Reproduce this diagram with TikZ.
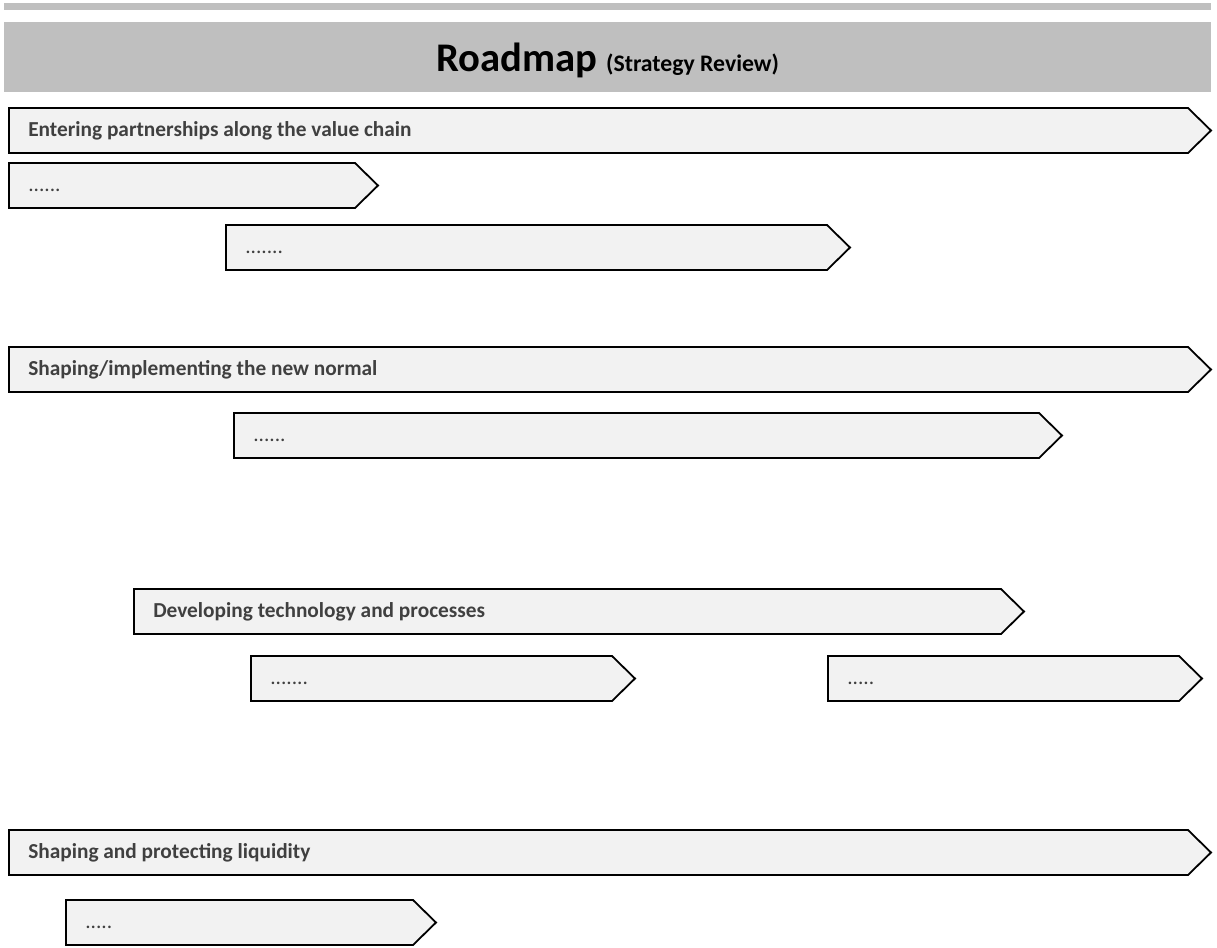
\documentclass[tikz,border=0pt]{standalone}
\usepackage{fontspec}
\setmainfont{Carlito}
\usetikzlibrary{positioning}

\definecolor{headgray}{HTML}{BFBFBF}
\definecolor{barfill}{HTML}{F2F2F2}
\definecolor{labeltext}{HTML}{404040}

% one roadmap bar: name, left x, top y, tip x, text
\newcommand{\phasebar}[5]{%
  \draw[bar] (#2,#3) -- (#4-23,#3) -- (#4,#3+22.5) -- (#4-23,#3+45)
    -- (#2,#3+45) -- cycle;
  \node[barlabel, anchor=base west] (#1) at (#2+19,#3+28.5) {#5};}

\begin{document}
\begin{tikzpicture}[x=0.75pt, y=-0.75pt, every node/.style={font=\fontsize{16}{18}\selectfont}]
\tikzset{bar/.style={draw=black, line width=1.35pt, fill=barfill, line join=miter},
  barlabel/.style={inner sep=0pt, text=labeltext, font=\fontsize{16}{18}\selectfont}}
\useasboundingbox (0,0) rectangle (1217,947);

% header
\fill[headgray] (4,3) rectangle (1211,10);
\fill[headgray] (4,22) rectangle (1211,92);
\node (title) at (607.5,60) {\fontsize{30.5}{34}\selectfont\bfseries Roadmap
  \fontsize{17.8}{20}\selectfont(Strategy Review)};

% partnerships
\phasebar{partner}{9}{108}{1211}{\textbf{Entering partnerships along the value chain}}
\phasebar{partnerA}{9}{163}{378}{......}
\phasebar{partnerB}{226}{225}{850}{.......}

% new normal
\phasebar{normal}{9}{347}{1211}{\textbf{Shaping/implementing the new normal}}
\phasebar{normalA}{234}{413}{1062}{......}

% technology
\phasebar{tech}{134}{589}{1024}{\textbf{Developing technology and processes}}
\phasebar{techA}{251}{656}{635}{.......}
\phasebar{techB}{828}{656}{1202}{.....}

% liquidity
\phasebar{liquid}{9}{830}{1211}{\textbf{Shaping and protecting liquidity}}
\phasebar{liquidA}{66}{900}{436}{.....}
\end{tikzpicture}
\end{document}
